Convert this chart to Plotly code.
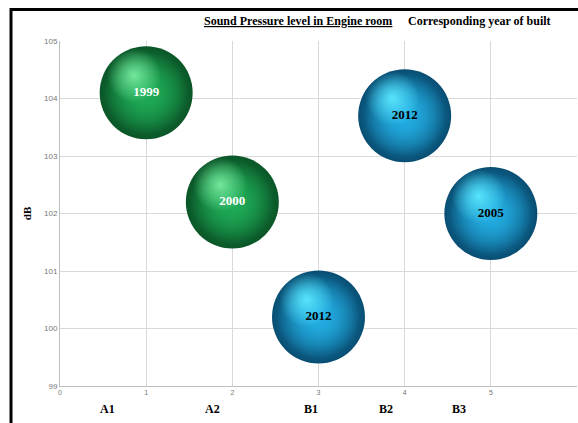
import plotly.graph_objects as go

# Engine-room sound pressure per vessel, with the year each was built
categories = ["A1", "A2", "B1", "B2", "B3"]
positions = [1, 2, 3, 4, 5]
sound_db = [104.1, 102.2, 100.2, 103.7, 102.0]
built_year = ["1999", "2000", "2012", "2012", "2005"]
groups = ["A", "A", "B", "B", "B"]

x_ticks = [0, 1, 2, 3, 4, 5, 6]
y_ticks = [99, 100, 101, 102, 103, 104, 105]

# sphere palette per group: rim, body, body (transparent), highlight, text colour
palette = {
    "A": dict(rim="#0a5527", body="#1eab56", body0="rgba(30,171,86,0)",
              hi="rgba(120,235,160,0.95)", hi0="rgba(120,235,160,0)", text="white"),
    "B": dict(rim="#084d72", body="#22ade2", body0="rgba(34,173,226,0)",
              hi="rgba(90,232,255,0.95)", hi0="rgba(90,232,255,0)", text="black"),
}

W, H = 578, 423
L, R, T, B = 60, 1, 41, 37
pw, ph = W - L - R, H - T - B

fig = go.Figure()

for g in ["A", "B"]:
    idx = [i for i, gg in enumerate(groups) if gg == g]
    p = palette[g]
    xs = [positions[i] for i in idx]
    ys = [sound_db[i] for i in idx]
    # base sphere: dark rim fading to the body colour at the centre
    fig.add_trace(go.Scatter(
        x=xs, y=ys, mode="markers",
        marker=dict(size=93, color=p["rim"], line=dict(width=0),
                    gradient=dict(type="radial", color=p["body"])),
        hoverinfo="skip", showlegend=False,
    ))
    # fill the body so the darkening stays near the edge
    fig.add_trace(go.Scatter(
        x=xs, y=ys, mode="markers",
        marker=dict(size=82, color=p["body0"], line=dict(width=0),
                    gradient=dict(type="radial", color=p["body"])),
        hoverinfo="skip", showlegend=False,
    ))
    # specular highlight toward the upper left
    fig.add_trace(go.Scatter(
        x=[v - 0.14 for v in xs], y=[v + 0.3 for v in ys], mode="markers",
        marker=dict(size=54, color=p["hi0"], line=dict(width=0),
                    gradient=dict(type="radial", color=p["hi"])),
        hoverinfo="skip", showlegend=False,
    ))
    # year labels
    fig.add_trace(go.Scatter(
        x=xs, y=ys, mode="text",
        text=[built_year[i] for i in idx],
        textposition="middle center",
        textfont=dict(family="Liberation Serif", size=13, color=p["text"], weight="bold"),
        hoverinfo="skip", showlegend=False,
    ))

grid = "#d9d9d9"
fig.update_xaxes(
    range=[0, 6], tickvals=x_ticks, ticktext=[str(v) for v in x_ticks],
    showgrid=True, gridcolor=grid, gridwidth=1,
    showline=True, linecolor="#bfbfbf", linewidth=1,
    zeroline=False, ticks="", ticklen=0,
    tickfont=dict(family="Liberation Sans", size=7, color="#777777"),
)
fig.update_yaxes(
    range=[99, 105], tickvals=y_ticks, ticktext=[str(v) for v in y_ticks],
    showgrid=True, gridcolor=grid, gridwidth=1,
    showline=True, linecolor="#bfbfbf", linewidth=1,
    zeroline=False, ticks="", ticklen=0,
    tickfont=dict(family="Liberation Sans", size=8, color="#777777"),
    title=dict(text="<b>dB</b>", font=dict(family="Liberation Serif", size=11, color="black"),
               standoff=10),
)

serif = dict(family="Liberation Serif", size=12, color="black")
annotations = [
    dict(text="<b><u>Sound Pressure level in Engine room</u></b>",
         x=(298 - L) / pw, y=(H - B - 21) / ph, xref="paper", yref="paper",
         showarrow=False, font=serif, xanchor="center", yanchor="middle"),
    dict(text="<b>Corresponding year of built</b>",
         x=(479 - L) / pw, y=(H - B - 21) / ph, xref="paper", yref="paper",
         showarrow=False, font=serif, xanchor="center", yanchor="middle"),
]

# vessel names along the bottom
label_px = [107, 212, 311, 386, 459]
for name, px in zip(categories, label_px):
    annotations.append(dict(
        text=f"<b>{name}</b>", x=(px - L) / pw, y=(H - B - 409) / ph,
        xref="paper", yref="paper", showarrow=False, font=serif,
        xanchor="center", yanchor="middle"))


# black frame on the top and left edges
def px_x(p):
    return (p - L) / pw


def px_y(p):
    return (H - B - p) / ph


shapes = [
    dict(type="line", xref="paper", yref="paper",
         x0=px_x(10), x1=px_x(580), y0=px_y(9.5), y1=px_y(9.5),
         line=dict(color="black", width=3)),
    dict(type="line", xref="paper", yref="paper",
         x0=px_x(11), x1=px_x(11), y0=px_y(8), y1=px_y(430),
         line=dict(color="black", width=3)),
]

fig.update_layout(
    width=W, height=H,
    margin=dict(l=L, r=R, t=T, b=B),
    paper_bgcolor="white", plot_bgcolor="white",
    annotations=annotations, shapes=shapes,
    showlegend=False,
)

fig.write_html("out.html")
